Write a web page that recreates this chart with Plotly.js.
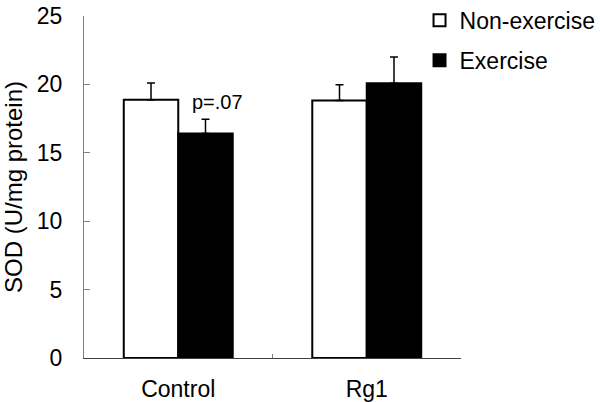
<!DOCTYPE html>
<html>
<head>
<meta charset="utf-8">
<script src="https://cdn.plot.ly/plotly-3.0.1.min.js"></script>
<style>html,body{margin:0;padding:0;background:#fff;}#chart{width:600px;height:402px;}</style>
</head>
<body>
<div id="chart"></div>
<script>
const categories = ["Control", "Rg1"];
const nonExercise = [18.87, 18.82];
const nonExerciseErr = [1.23, 1.15];
const exercise = [16.41, 20.09];
const exerciseErr = [1.05, 1.91];
const yTicks = [0, 5, 10, 15, 20, 25];

const font = "Arial, 'Liberation Sans', sans-serif";

const traces = [
  {
    type: "bar", name: "Non-exercise", x: categories, y: nonExercise,
    marker: {color: "#ffffff", line: {color: "#000000", width: 2}},
    error_y: {type: "data", array: nonExerciseErr, arrayminus: [0, 0], symmetric: false, color: "#000000", thickness: 1.5, width: 4},
    legendgroup: "a"
  },
  {
    type: "bar", name: "Exercise", x: categories, y: exercise,
    marker: {color: "#000000", line: {color: "#000000", width: 2}},
    error_y: {type: "data", array: exerciseErr, arrayminus: [0, 0], symmetric: false, color: "#000000", thickness: 1.5, width: 4},
    legendgroup: "b"
  }
];

const layout = {
  width: 600, height: 402,
  margin: {l: 84, r: 139, t: 16, b: 44, autoexpand: false},
  paper_bgcolor: "#ffffff", plot_bgcolor: "#ffffff",
  font: {family: font, size: 23, color: "#000000"},
  barmode: "group", bargap: 0.422, bargroupgap: 0,
  xaxis: {
    type: "category", showline: true, linecolor: "#404040", linewidth: 1,
    ticks: "inside", tickson: "boundaries", ticklen: 4, tickcolor: "#808080",
    showgrid: false, zeroline: false, tickfont: {size: 23}, ticklabelstandoff: 10
  },
  yaxis: {
    range: [0, 25], tickvals: yTicks, showline: true, linecolor: "#808080", linewidth: 1,
    ticks: "inside", ticklen: 6, tickcolor: "#808080", showgrid: false, zeroline: false,
    tickfont: {size: 23}, ticklabelstandoff: 16,
    title: {text: "SOD (U/mg protein)", font: {size: 24}, standoff: 8}
  },
  showlegend: true,
  legend: {
    x: 0.89, xanchor: "left", y: 1.05, yanchor: "top",
    traceorder: "grouped", tracegroupgap: 7, bgcolor: "rgba(0,0,0,0)",
    font: {size: 23}
  },
  annotations: [
    {x: "Control", y: 18.75, xref: "x", yref: "y", xshift: 39, text: "p=.07", showarrow: false, font: {size: 20}}
  ]
};

Plotly.newPlot("chart", traces, layout, {displayModeBar: false, staticPlot: true});
</script>
</body>
</html>
